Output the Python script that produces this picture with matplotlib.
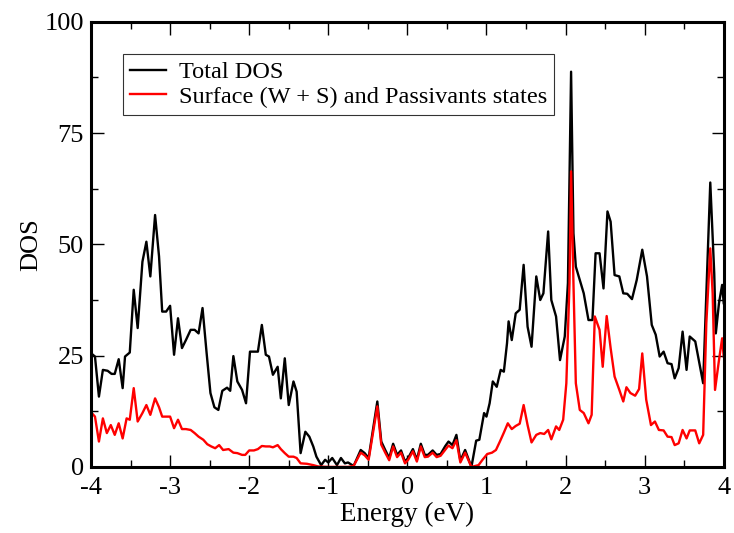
import matplotlib
matplotlib.use("Agg")
import matplotlib.pyplot as plt
from matplotlib.ticker import MultipleLocator

# Total DOS (energy in eV, DOS)
total_e = [-3.99, -3.95, -3.90, -3.85, -3.79, -3.74, -3.70, -3.65, -3.60, -3.57,
           -3.51, -3.46, -3.41, -3.35, -3.30, -3.25, -3.19, -3.14, -3.10, -3.05,
           -3.00, -2.95, -2.90, -2.85, -2.80, -2.74, -2.69, -2.64, -2.59, -2.54,
           -2.49, -2.44, -2.39, -2.34, -2.28, -2.24, -2.20, -2.15, -2.09, -2.04,
           -1.99, -1.94, -1.89, -1.84, -1.79, -1.75, -1.70, -1.64, -1.60, -1.55,
           -1.50, -1.44, -1.40, -1.35, -1.29, -1.24, -1.19, -1.15, -1.09, -1.04,
           -1.00, -0.95, -0.89, -0.84, -0.79, -0.75, -0.68, -0.59, -0.54, -0.49,
           -0.38, -0.33, -0.28, -0.23, -0.18, -0.13, -0.08, -0.03, 0.01, 0.07,
           0.12, 0.17, 0.22, 0.26, 0.32, 0.37, 0.42, 0.48, 0.52, 0.57,
           0.62, 0.67, 0.73, 0.81, 0.87, 0.91, 0.97, 1.00, 1.04, 1.08,
           1.13, 1.18, 1.22, 1.26, 1.28, 1.32, 1.37, 1.42, 1.47, 1.52,
           1.57, 1.63, 1.68, 1.72, 1.78, 1.82, 1.88, 1.93, 1.99, 2.03,
           2.07, 2.10, 2.13, 2.18, 2.23, 2.29, 2.34, 2.38, 2.43, 2.48,
           2.53, 2.57, 2.62, 2.68, 2.73, 2.78, 2.84, 2.90, 2.97, 3.03,
           3.09, 3.14, 3.19, 3.24, 3.29, 3.34, 3.38, 3.43, 3.48, 3.53,
           3.57, 3.64, 3.74, 3.79, 3.83, 3.88, 3.90, 3.94, 3.98, 4.00]
total_dos = [25.4, 24.8, 15.8, 21.8, 21.6, 20.9, 20.9, 24.2, 17.7, 24.8,
             25.7, 39.8, 31.2, 46.1, 50.6, 42.8, 56.6, 47.3, 34.9, 34.9,
             36.2, 25.2, 33.4, 26.7, 28.5, 30.8, 30.8, 30.0, 35.7, 25.9,
             16.6, 13.4, 12.8, 17.1, 17.8, 17.1, 24.9, 19.2, 17.3, 14.3,
             25.9, 25.9, 25.9, 31.9, 25.2, 24.8, 20.7, 22.5, 15.4, 24.4,
             13.9, 19.2, 16.9, 3.1, 7.9, 6.8, 4.6, 2.3, 0.4, 1.6,
             1.0, 2.0, 0.4, 2.0, 0.8, 1.0, 0.2, 3.8, 3.1, 2.0,
             14.7, 5.7, 3.8, 2.0, 5.2, 2.7, 3.7, 1.2, 2.0, 4.0,
             1.6, 5.2, 2.7, 2.7, 3.7, 2.7, 2.9, 4.7, 5.7, 4.9,
             7.2, 1.4, 3.8, 0.0, 5.9, 6.1, 12.1, 11.3, 14.3, 19.2,
             18.0, 21.8, 21.4, 27.8, 32.7, 28.5, 34.5, 35.3, 45.4, 31.5,
             27.0, 42.8, 37.5, 39.0, 52.9, 37.5, 33.8, 24.0, 29.3, 41.3,
             88.8, 52.5, 45.0, 42.0, 39.0, 33.0, 33.0, 48.0, 48.0, 40.1,
             57.4, 55.1, 43.1, 42.8, 39.0, 38.9, 37.7, 42.0, 48.8, 42.8,
             31.9, 29.7, 24.8, 25.9, 23.3, 23.1, 19.9, 22.2, 30.4, 21.8,
             29.3, 28.2, 18.8, 43.5, 63.9, 43.5, 30.0, 36.8, 40.9, 36.8]

# Surface (W + S) and passivant states
surf_e = [-3.99, -3.95, -3.90, -3.85, -3.80, -3.75, -3.70, -3.65, -3.60, -3.55,
          -3.51, -3.46, -3.41, -3.35, -3.30, -3.25, -3.19, -3.14, -3.10, -3.05,
          -3.00, -2.95, -2.90, -2.85, -2.80, -2.74, -2.69, -2.64, -2.58, -2.53,
          -2.48, -2.43, -2.38, -2.33, -2.26, -2.20, -2.15, -2.09, -2.05, -2.00,
          -1.94, -1.89, -1.84, -1.79, -1.74, -1.70, -1.64, -1.60, -1.55, -1.50,
          -1.44, -1.40, -1.35, -1.27, -1.19, -1.13, -1.00, -0.85, -0.75, -0.68,
          -0.59, -0.54, -0.49, -0.38, -0.33, -0.28, -0.23, -0.18, -0.13, -0.08,
          -0.03, 0.01, 0.07, 0.12, 0.17, 0.22, 0.26, 0.32, 0.37, 0.42,
          0.48, 0.52, 0.57, 0.62, 0.67, 0.73, 0.81, 0.90, 0.95, 1.01,
          1.07, 1.12, 1.17, 1.22, 1.27, 1.32, 1.37, 1.42, 1.47, 1.52,
          1.57, 1.63, 1.68, 1.73, 1.78, 1.82, 1.88, 1.92, 1.97, 2.01,
          2.05, 2.07, 2.10, 2.13, 2.18, 2.23, 2.29, 2.33, 2.37, 2.43,
          2.47, 2.52, 2.57, 2.62, 2.68, 2.73, 2.77, 2.82, 2.88, 2.93,
          2.97, 3.02, 3.08, 3.13, 3.18, 3.24, 3.29, 3.34, 3.38, 3.43,
          3.48, 3.53, 3.57, 3.64, 3.69, 3.74, 3.78, 3.83, 3.86, 3.89,
          3.94, 3.98, 4.00]
surf_dos = [12.1, 11.3, 5.7, 10.9, 7.6, 9.4, 7.2, 9.8, 6.4, 10.9,
            10.6, 17.7, 10.2, 12.1, 13.9, 11.7, 15.4, 13.4, 11.3, 11.3,
            11.3, 8.7, 10.6, 8.5, 8.5, 8.3, 7.6, 6.8, 6.1, 5.1,
            4.6, 4.2, 4.9, 3.8, 4.0, 3.2, 3.1, 2.7, 2.7, 3.7,
            3.7, 4.0, 4.7, 4.6, 4.6, 4.4, 4.9, 4.0, 3.1, 2.3,
            2.3, 2.0, 0.8, 0.7, 0.4, 0.1, 0.0, 0.0, 0.0, 0.2,
            3.2, 2.6, 1.6, 13.6, 5.0, 3.2, 1.5, 4.6, 2.2, 3.2,
            0.8, 1.6, 3.5, 1.2, 4.6, 2.2, 2.3, 3.2, 2.2, 2.5,
            3.9, 4.8, 4.2, 6.0, 1.0, 3.2, 0.0, 0.4, 1.6, 2.9,
            3.2, 3.8, 5.7, 7.7, 9.8, 8.5, 9.2, 9.7, 13.9, 9.4,
            5.5, 7.2, 7.6, 7.4, 8.3, 6.2, 9.1, 8.3, 10.6, 18.8,
            41.3, 66.4, 41.3, 18.8, 12.8, 12.1, 9.8, 11.7, 33.8, 30.8,
            22.5, 33.9, 26.7, 20.3, 17.3, 14.7, 17.9, 16.6, 16.0, 17.5,
            25.5, 15.1, 9.4, 10.2, 8.3, 8.2, 6.8, 6.7, 4.9, 5.3,
            8.3, 6.4, 8.2, 8.2, 5.3, 7.2, 32.3, 49.1, 39.0, 17.3,
            24.0, 28.9, 24.8]

plt.rcParams["font.family"] = ["Liberation Serif", "DejaVu Serif"]
plt.rcParams["axes.unicode_minus"] = False

fig = plt.figure(figsize=(7.34, 5.33), dpi=100)
ax = fig.add_axes([0.124, 0.124, 0.862, 0.835])

ax.plot(total_e, total_dos, color="black", lw=1.7, label="Total DOS")
ax.plot(surf_e, surf_dos, color="red", lw=1.7,
        label="Surface (W + S) and Passivants states")

ax.set_xlim(-4, 4)
ax.set_ylim(0, 100)
ax.xaxis.set_major_locator(MultipleLocator(1))
ax.xaxis.set_minor_locator(MultipleLocator(0.5))
ax.yaxis.set_major_locator(MultipleLocator(25))
ax.yaxis.set_minor_locator(MultipleLocator(12.5))
ax.tick_params(which="both", direction="in", top=True, right=True,
               labelsize=19, width=1.0)
ax.tick_params(which="major", length=9)
ax.tick_params(which="minor", length=5)
ax.tick_params(axis="x", which="major", pad=7)
ax.tick_params(axis="y", which="major", pad=5)
for sp in ax.spines.values():
    sp.set_linewidth(2.2)

ax.set_xlabel("Energy (eV)", fontsize=19.5, labelpad=2)
ax.set_ylabel("DOS", fontsize=19, labelpad=2)

leg = ax.legend(loc="upper left", bbox_to_anchor=(0.05, 0.928), fontsize=17.5,
                frameon=True, fancybox=False, edgecolor="black",
                handlelength=1.5, handletextpad=0.5, borderpad=0.3,
                labelspacing=0.1, borderaxespad=0)
leg.get_frame().set_linewidth(0.8)

fig.savefig("out.png", dpi=100)
